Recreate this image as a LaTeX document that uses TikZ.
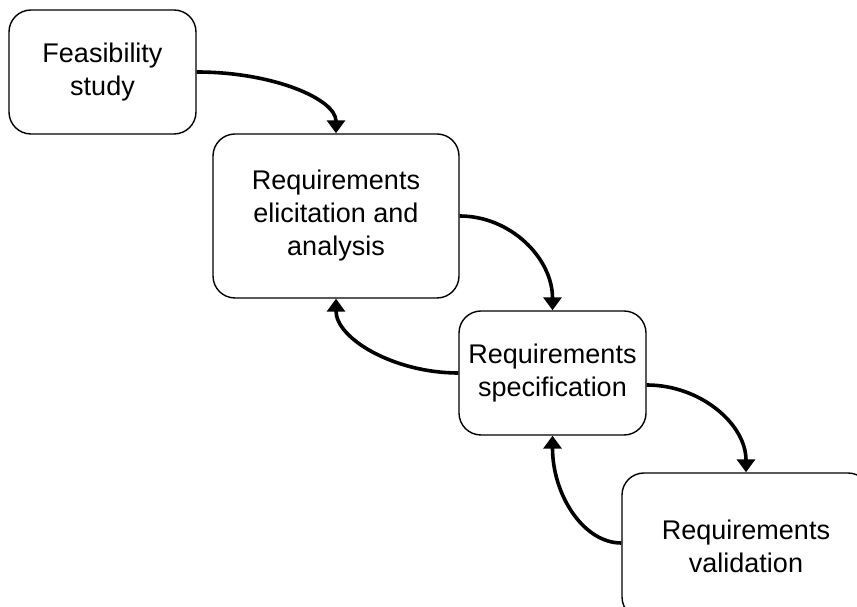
\documentclass[tikz,border=0pt]{standalone}
\usepackage{fontspec}
\setmainfont{Liberation Sans}
\usetikzlibrary{arrows.meta}
\begin{document}
\begin{tikzpicture}[x=1pt,y=1pt,
  box/.style={draw=black, line width=1.4pt, rounded corners=22pt, fill=white,
    align=center, inner sep=0pt, font=\fontsize{27}{33}\selectfont},
  flow/.style={line width=3.6pt, -{Triangle[width=18pt,length=13pt]}}]
\clip (0,0) rectangle (857,607);
\fill[white] (0,0) rectangle (857,607);
\node[box, minimum width=187pt, minimum height=124pt] (b1) at (102.5,535) {Feasibility\\study};
\node[box, minimum width=246pt, minimum height=164pt] (b2) at (336,391) {Requirements\\elicitation and\\analysis};
\node[box, minimum width=187pt, minimum height=124pt] (b3) at (552.5,234) {Requirements\\specification};
\node[box, minimum width=248pt, minimum height=146pt] (b4) at (746,61) {Requirements\\validation};
\draw[flow] (b1.east) to[out=0,in=90,out distance=77pt,in distance=34pt] (b2.north);
\draw[flow] (b2.east) to[out=0,in=90,out distance=51pt,in distance=52pt] (b3.north);
\draw[flow] (b3.west) to[out=180,in=-90,out distance=64pt,in distance=40pt] (b2.south);
\draw[flow] ([yshift=-12pt]b3.east) to[out=0,in=90,out distance=54pt,in distance=48pt] (b4.north);
\draw[flow] ([yshift=3pt]b4.west) to[out=180,in=-90,out distance=38pt,in distance=59pt] (b3.south);
\end{tikzpicture}
\end{document}
